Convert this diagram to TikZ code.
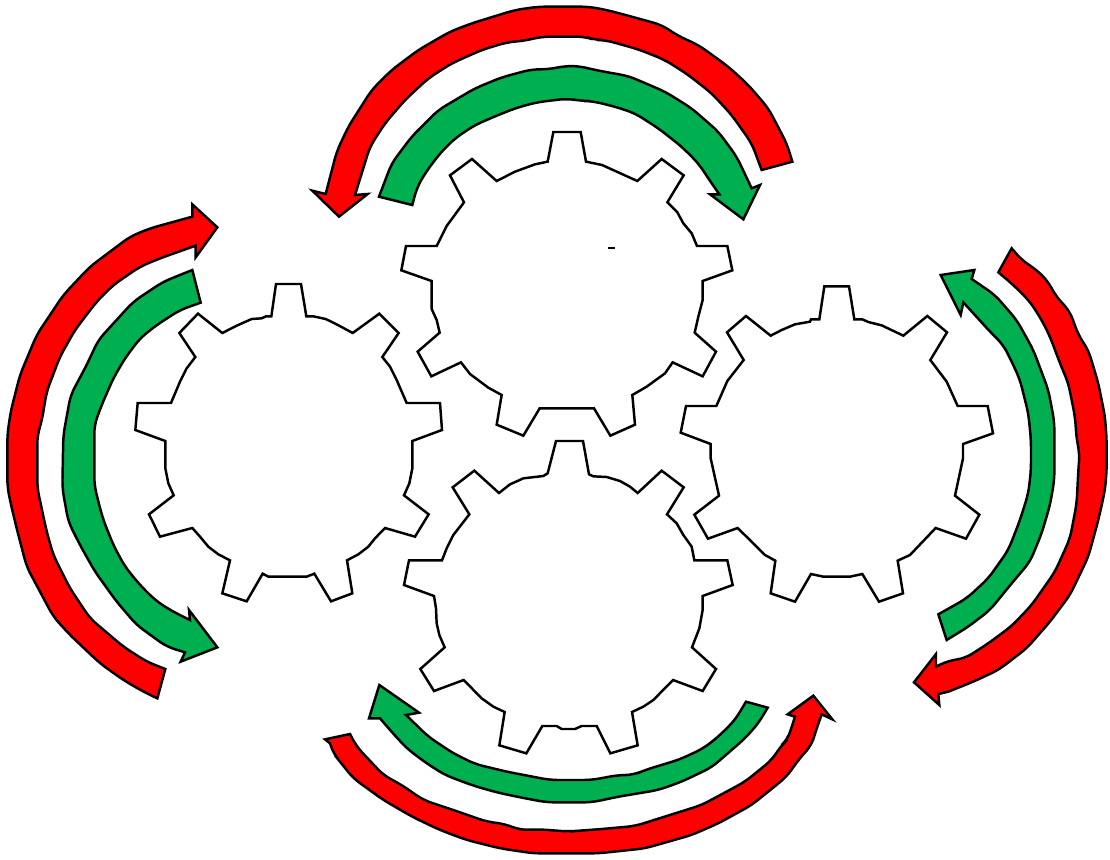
\documentclass[tikz,border=0pt]{standalone}
\tikzset{
  gearbody/.style={draw=black,fill=white,line width=1.85pt,line join=miter},
  redarrow/.style={draw=black,fill=arrowred,line width=1.85pt,line join=miter},
  greenarrow/.style={draw=black,fill=arrowgreen,line width=1.85pt,line join=miter},
  zoomed/.style={shift={(#1)},x=.25pt,y=-.25pt},
  rc/.style={rounded corners=6pt}
}
\definecolor{arrowred}{HTML}{FF0000}
\definecolor{arrowgreen}{HTML}{00B050}
\begin{document}
\begin{tikzpicture}[x=.75pt,y=-.75pt]
\useasboundingbox (0,0) rectangle (1110,860);
% top gear
\begin{scope}[zoomed={390,120}]
\draw[gearbody] (490,36)--(572,36)--(588,125)--(636,135)--(742,183)--(815,117)--(881,166)--(832,247)--(862,277)--(880,310)--(905,340)--(921,378)--(1012,378)--(1027,451)--(938,483)--(938,540)--(925,590)--(914,638)--(978,695)--(938,769)--(848,727)--(825,760)--(770,800)--(727,825)--(735,914)--(661,947)--(612,865)--(449,865)--(400,947)--(320,914)--(335,825)--(295,803)--(240,762)--(213,727)--(124,769)--(83,695)--(149,638)--(140,600)--(125,567)--(125,483)--(34,451)--(48,378)--(140,378)--(170,318)--(222,247)--(180,166)--(246,117)--(320,183)--(375,155)--(435,133)--(473,125)--cycle;
\draw[line width=1.3pt] (655,383)--(675,383);
\end{scope}
% left gear
\begin{scope}[zoomed={130,275}]
\draw[gearbody] (438,27)--(513,27)--(529,124)--(550,124)--(587,132)--(620,148)--(668,174)--(748,116)--(806,174)--(757,246)--(780,275)--(800,315)--(830,384)--(930,384)--(936,465)--(847,498)--(847,580)--(838,625)--(822,661)--(896,718)--(855,785)--(765,759)--(735,790)--(715,815)--(685,838)--(651,856)--(667,955)--(603,979)--(553,896)--(530,905)--(415,905)--(398,896)--(350,979)--(277,955)--(300,856)--(265,838)--(235,815)--(210,785)--(187,759)--(90,785)--(57,718)--(131,661)--(115,625)--(106,580)--(106,498)--(16,465)--(23,384)--(123,384)--(150,320)--(170,280)--(196,246)--(148,174)--(204,116)--(277,174)--(320,152)--(365,132)--(395,130)--(408,124)--(424,124)--cycle;
\end{scope}
% right gear
\begin{scope}[zoomed={675,280}]
\draw[gearbody] (448,19)--(522,19)--(538,118)--(562,118)--(580,126)--(620,136)--(685,167)--(757,108)--(816,157)--(766,240)--(815,305)--(848,378)--(938,378)--(954,460)--(864,492)--(864,535)--(840,647)--(913,704)--(873,776)--(782,744)--(705,825)--(668,842)--(684,940)--(612,965)--(562,882)--(525,890)--(445,890)--(408,882)--(360,965)--(287,940)--(301,842)--(270,825)--(188,744)--(99,776)--(58,704)--(132,647)--(107,535)--(107,492)--(17,458)--(33,378)--(124,378)--(157,303)--(206,240)--(156,157)--(213,108)--(287,167)--(320,150)--(360,133)--(405,125)--(408,118)--(433,118)--cycle;
\end{scope}
% bottom gear
\begin{scope}[zoomed={400,435}]
\draw[gearbody] (468,18)--(549,18)--(567,118)--(580,124)--(620,126)--(660,138)--(690,155)--(713,174)--(785,107)--(851,157)--(801,238)--(830,265)--(850,300)--(875,335)--(883,376)--(982,376)--(998,450)--(908,483)--(908,525)--(898,580)--(876,637)--(948,702)--(908,768)--(819,735)--(760,795)--(730,815)--(696,831)--(713,931)--(631,955)--(590,873)--(545,873)--(525,882)--(485,882)--(470,873)--(427,873)--(379,955)--(298,931)--(314,831)--(280,815)--(245,790)--(191,735)--(102,768)--(61,702)--(134,637)--(118,600)--(110,565)--(108,520)--(102,483)--(12,450)--(27,376)--(126,376)--(140,340)--(160,300)--(208,238)--(158,157)--(223,107)--(297,174)--(330,148)--(370,130)--(430,123)--(443,115)--cycle;
\end{scope}
% top arrows
\begin{scope}[zoomed={305,0}]
\draw[redarrow] (1462,485)[rc]--(1445,430)--(1390,325)--(1330,255)--(1270,200)--(1180,135)--(1120,108)--(1070,75)--(980,50)--(905,30)--(850,20)--(700,20)--(630,30)--(500,70)--(435,95)--(340,150)--(260,210)--(200,270)--(130,380)--(95,455)[sharp corners]--(62,582)--(22,572)--(102,650)--(188,582)--(150,585)[rc]--(195,440)--(240,370)--(300,300)--(370,235)--(440,190)--(530,150)--(605,127)--(660,122)--(710,110)--(840,110)--(870,120)--(900,120)--(1000,148)--(1080,180)--(1150,225)--(1220,280)--(1280,345)--(1340,430)[sharp corners]--(1370,510)--cycle;
\draw[greenarrow] (222,590)[rc]--(260,490)--(320,410)--(400,330)--(510,265)--(590,232)--(680,208)--(730,208)--(780,198)--(820,198)--(880,212)--(970,228)--(1080,275)--(1160,325)--(1240,395)--(1295,470)[sharp corners]--(1340,565)--(1365,555)--(1315,658)--(1215,583)--(1243,583)[rc]--(1220,550)--(1180,490)--(1130,440)--(1060,385)--(990,340)--(930,320)--(860,303)--(830,303)--(790,296)--(750,300)--(690,308)--(630,325)--(580,345)--(510,375)--(450,415)--(405,460)--(360,520)--(335,565)[sharp corners]--(322,615)--cycle;
\end{scope}
% left arrows
\begin{scope}[zoomed={0,195}]
\draw[redarrow] (472,1510)[rc]--(430,1490)--(370,1455)--(300,1405)--(210,1320)--(160,1265)--(120,1190)--(80,1115)--(50,1000)--(32,925)--(22,875)--(22,720)--(32,650)--(60,540)--(110,420)--(190,300)--(270,215)--(390,125)--(450,100)[sharp corners]--(577,65)--(577,28)--(652,97)--(587,187)--(587,152)[rc]--(480,190)--(420,215)--(340,270)--(290,320)--(225,405)--(180,485)--(140,590)--(125,680)--(112,720)--(112,880)--(125,940)--(140,1010)--(160,1080)--(210,1180)--(270,1270)--(370,1355)--(440,1400)[sharp corners]--(496,1422)--cycle;
\draw[greenarrow] (577,225)[rc]--(490,260)--(400,320)--(345,380)--(295,435)--(260,510)--(212,600)--(190,720)--(187,880)--(205,980)--(240,1050)--(285,1130)--(350,1220)--(410,1290)--(500,1355)[sharp corners]--(555,1372)--(542,1400)--(652,1357)--(567,1245)--(570,1275)[rc]--(510,1245)--(465,1215)--(420,1170)--(375,1115)--(340,1050)--(310,975)--(295,920)--(283,870)--(283,690)--(305,630)--(340,550)--(375,490)--(420,430)--(470,390)--(540,345)[sharp corners]--(602,323)--cycle;
\end{scope}
% right arrows
\begin{scope}[zoomed={905,240}]
\draw[redarrow] (320,25)[rc]--(350,60)--(395,90)--(430,125)--(450,165)--(495,215)--(520,285)--(550,330)--(580,430)--(600,530)--(605,600)--(605,690)--(600,750)--(580,840)--(550,950)--(495,1065)--(435,1145)--(365,1225)--(280,1290)--(205,1325)[sharp corners]--(130,1355)--(100,1362)--(103,1395)--(27,1327)--(93,1242)--(93,1280)[rc]--(130,1262)--(180,1255)--(250,1210)--(320,1158)--(380,1095)--(450,995)--(495,895)--(515,790)--(520,690)--(524,640)--(515,600)--(510,530)--(490,430)--(465,370)--(435,290)--(410,240)--(375,185)--(325,135)[sharp corners]--(280,97)--cycle;
\draw[greenarrow] (107,105)--(208,90)--(200,117)[rc]--(270,165)--(335,240)--(385,330)--(430,450)--(448,545)--(448,720)--(435,795)--(410,880)--(375,965)--(320,1030)--(255,1110)--(190,1160)[sharp corners]--(125,1200)--(100,1123)[rc]--(185,1075)--(250,1015)--(310,930)--(345,840)--(370,760)--(378,690)--(378,600)--(370,520)--(345,420)--(325,375)--(295,315)--(255,275)[sharp corners]--(175,187)--(167,225)--cycle;
\end{scope}
% bottom arrows
\begin{scope}[zoomed={320,680}]
\draw[greenarrow] (178,15)--(297,98)--(258,105)[rc]--(325,170)--(400,220)--(465,252)--(560,275)--(690,300)--(815,300)--(895,285)--(940,285)--(975,270)--(1080,238)--(1150,205)--(1195,170)--(1245,120)[sharp corners]--(1278,65)--(1343,83)[rc]--(1315,130)--(1275,175)--(1175,262)--(1085,305)--(1015,330)--(895,350)--(815,367)--(680,367)--(600,352)--(530,337)--(460,317)--(375,285)--(320,250)--(260,205)--(210,150)[sharp corners]--(180,115)--(147,115)--cycle;
\draw[redarrow] (90,162)[rc]--(110,200)--(190,285)--(245,315)--(310,360)--(400,390)--(500,425)--(555,432)--(600,450)--(660,448)--(750,455)--(775,452)--(835,448)--(945,438)--(1145,375)--(1275,305)--(1355,240)--(1385,195)--(1403,178)[sharp corners]--(1425,110)--(1403,103)--(1480,47)--(1537,118)--(1505,103)[rc]--(1485,160)--(1475,195)--(1435,240)--(1400,290)--(1295,375)--(1195,430)--(1115,465)--(975,505)--(835,520)--(640,520)--(540,505)--(440,480)--(360,450)--(280,412)--(190,360)--(100,295)--(60,245)--(40,220)[sharp corners]--(30,190)--(15,178)--cycle;
\end{scope}
\end{tikzpicture}
\end{document}
